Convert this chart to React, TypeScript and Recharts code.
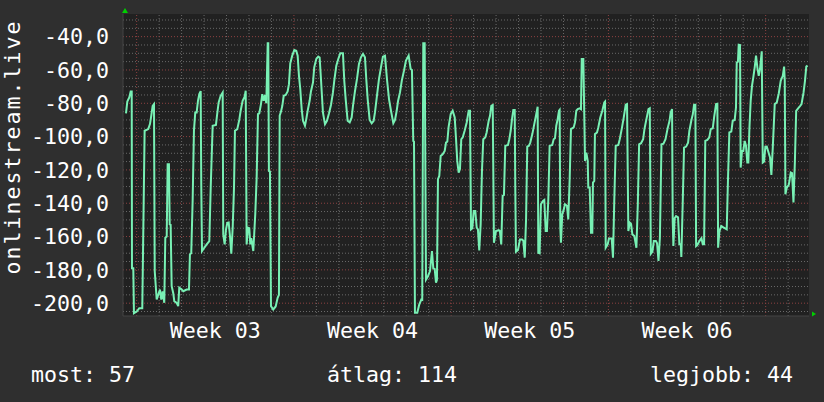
import React from 'react';
import { LineChart, Line, XAxis, YAxis, CartesianGrid, ReferenceLine, ReferenceDot } from 'recharts';

// samples: [hours since start of Week 03, value]
const week02Tail: [number, number][] = [
  [-11.4, -86], [-10.0, -79], [-7.9, -76.5], [-6.4, -73], [-5.3, -73], [-5.0, -179], [-3.6, -179], [-2.9, -206],
];

const week03: [number, number][] = [
  [0, -205], [2.8, -203], [6.0, -203], [8.5, -96.5], [12.4, -95.5], [14.2, -92.5], [15.6, -87.5], [17.1, -81.5],
  [18.5, -80.5], [19.3, -180.7], [21.4, -197.8], [23.5, -194.3], [24.9, -191.8], [26.3, -197.8], [27.8, -193],
  [29.5, -199.8], [30.6, -160.7], [32.1, -160], [33.1, -116.6], [34.5, -116.6], [35.3, -152.7], [36.3, -153],
  [37.4, -189.8], [39.1, -194], [40.2, -198.8], [42.7, -199.8], [44.4, -201.8], [45.5, -190.7], [48.1, -191.8],
  [49.8, -192.8], [53.4, -191.8], [55.9, -191.8], [56.9, -170.7], [58.3, -170], [59.8, -138.6], [61.2, -96.5],
  [62.6, -85.5], [64.1, -85.5], [65.5, -78.5], [66.9, -74.5], [68.4, -72.7], [69.0, -128.6], [69.8, -168.7],
  [71.9, -167], [74.8, -164.7], [77.6, -162.7], [79.1, -130.6], [81.2, -93.5], [84.7, -93], [86.1, -86],
  [87.6, -79.5], [89.7, -75.5], [91.9, -73.5], [92.5, -158.7], [94.0, -164.7], [95.4, -156], [96.8, -151.7],
  [98.3, -151.5], [99.7, -159.7], [101.1, -170.3], [102.6, -154.5], [104.0, -130.6], [105.0, -96.5],
  [107.5, -95.5], [109.6, -90], [111.1, -84.5], [113.2, -78.5], [115.4, -76], [116.5, -72.5], [117.5, -164.7],
  [118.9, -154.7], [120.3, -155], [121.4, -164.7], [122.4, -161], [124.6, -168.7], [126.7, -146.6],
  [128.2, -124.6], [129.6, -86.5], [131.0, -86], [132.8, -80.5], [134.2, -74.5], [135.7, -78.5], [137.1, -75],
  [138.5, -80], [140.0, -44], [140.6, -44], [141.3, -120.6], [142.4, -121], [143.5, -201.8], [145.9, -203.8],
  [148.5, -202], [150.6, -196.8], [152.0, -195], [152.8, -87.5], [154.2, -85], [155.6, -81.5], [157.1, -75.5],
  [159.2, -75], [161.3, -72.9], [162.7, -68.5], [164.1, -56], [166.2, -51.4],
];

const week04: [number, number][] = [
  [168.4, -48], [170.5, -48.5], [172.0, -51.4], [173.4, -63.5], [174.8, -71.5], [176.3, -83.5], [177.7, -90.5],
  [179.8, -93.5], [181.2, -89.5], [182.7, -84.5], [184.8, -78.5], [186.2, -72.9], [188.4, -67.5], [189.7, -58.4],
  [191.9, -53.4], [194.0, -52], [195.5, -52.5], [196.9, -65.4], [199.0, -85.5], [201.2, -92.5], [203.3, -90.5],
  [205.5, -86], [207.6, -81], [209.7, -73.5], [211.1, -66.5], [213.3, -57.4], [215.4, -53.4], [217.5, -50],
  [220.4, -50], [221.8, -66.5], [223.3, -77.5], [225.4, -90.5], [227.6, -91.5], [229.7, -88.5], [231.1, -81.5],
  [233.2, -72.9], [235.4, -65.4], [237.5, -56.4], [239.6, -52.4], [241.8, -50.4], [243.9, -52.4], [245.3, -65.4],
  [246.8, -77.5], [248.9, -90], [251.1, -92], [253.2, -90.5], [254.6, -85.5], [256.7, -75.5], [258.9, -65.4],
  [261.0, -58.4], [263.1, -52], [265.3, -51.5], [267.4, -65.4], [269.6, -77.5], [271.7, -84.5], [274.2, -92],
  [276.0, -90], [277.8, -84.5], [279.2, -78.8], [281.3, -73.5], [283.4, -66], [285.6, -60.4], [287.7, -54.4],
  [290.6, -51.4], [292.7, -59.4], [294.1, -60], [295.5, -102.6], [296.3, -103], [297.3, -205.8], [299.8, -205.8],
  [301.9, -200.8], [304.1, -197.8], [305.1, -198], [306.2, -44], [307.7, -44], [309.1, -185.8], [311.2, -183.8],
  [313.4, -180.7], [315.5, -168.7], [316.9, -179.1], [318.4, -179.5], [319.8, -187.7], [320.8, -186],
  [321.9, -125.6], [323.3, -123.6], [324.8, -111.6], [326.9, -110.6], [329.1, -108.6], [330.5, -103.6],
  [331.9, -103], [333.3, -94.1], [335.5, -86.5],
];

const week05: [number, number][] = [
  [337.6, -84.5], [339.8, -88.5], [341.1, -100.5], [342.5, -114.6], [344.0, -121.6], [345.4, -119.5],
  [346.8, -101.6], [348.3, -100.5], [350.4, -96.5], [352.6, -91.5], [354.7, -84.5], [356.1, -84.5],
  [357.2, -155.7], [358.6, -155], [360.1, -144.7], [361.8, -144.7], [363.3, -154.7], [364.6, -155.7],
  [366.0, -168.3], [367.5, -152.7], [368.9, -120.6], [370.3, -101.6], [372.4, -100.5], [373.9, -97.5],
  [376.1, -90.5], [377.5, -87.5], [378.9, -81.5], [380.4, -81], [381.7, -163.7], [383.9, -156.7],
  [386.8, -156.2], [388.1, -156.7], [389.5, -164.7], [391.0, -135.6], [392.4, -135], [393.8, -105.6],
  [396.7, -105], [398.1, -101.6], [399.6, -96.5], [401.0, -89.5], [402.4, -84.1], [403.9, -84.1],
  [404.5, -130.6], [405.2, -169.1], [407.4, -168], [409.5, -161.7], [411.7, -161.7], [413.1, -162.5],
  [414.6, -172.7], [416.0, -150], [417.3, -106], [419.1, -105.5], [420.5, -103.6], [422.7, -98.5],
  [424.8, -92.5], [426.9, -86.5], [428.4, -82.1], [429.1, -169.7], [430.5, -170], [431.9, -140.6],
  [434.1, -138.6], [435.5, -138], [437.0, -156.7], [438.3, -156.7], [439.8, -137.6], [441.2, -105.6],
  [444.0, -105], [445.5, -101.6], [446.9, -101], [448.3, -93.5], [449.8, -89.5], [451.2, -84.5], [451.9, -84],
  [452.6, -154.7], [453.3, -163.7], [454.7, -146.6], [456.2, -144], [457.6, -140.6], [459.7, -141.5],
  [461.1, -149.7], [462.6, -125.6], [464.0, -95.5], [466.9, -94.5], [468.3, -91.5], [469.7, -84.5],
  [471.2, -83.5], [473.3, -83], [474.7, -83.5], [475.5, -53.4], [477.2, -53.4], [478.2, -86.5], [479.0, -114.6],
  [480.4, -109.6], [481.9, -114.6], [482.5, -130.6], [484.0, -130.6], [485.4, -157.7], [486.8, -157.7],
  [487.5, -127.6], [488.9, -126.6], [489.6, -98.5], [491.8, -97.5], [493.2, -94.5], [495.3, -88.5],
  [497.5, -84.5], [499.6, -79.5], [500.4, -79], [501.1, -166.7], [503.2, -164.7],
];

const week06: [number, number][] = [
  [504.6, -161.1], [507.5, -161.1], [508.9, -172.7], [510.3, -137.6], [511.8, -105.6], [514.6, -105],
  [516.1, -101.6], [518.2, -95.5], [520.4, -88.5], [522.5, -80.9], [523.9, -80.5], [525.3, -156.7],
  [526.8, -151.7], [528.2, -152.5], [529.6, -158.7], [531.7, -159.7], [533.9, -166.7], [535.4, -140.6],
  [536.8, -104.6], [538.9, -104], [541.1, -101.6], [542.5, -95.5], [544.6, -89.5], [546.8, -83.5], [548.2, -83],
  [549.3, -170.3], [551.0, -169], [552.5, -162.7], [554.7, -162.7], [556.0, -164], [557.5, -174.7],
  [559.0, -160.7], [560.7, -104.6], [562.8, -104.3], [565.0, -101.6], [567.1, -95.5], [569.3, -90.5],
  [570.5, -85.5], [572.0, -83.5], [572.7, -150.7], [573.4, -165.7], [574.8, -149], [576.2, -147.7],
  [578.4, -148.5], [579.8, -164.7], [581.3, -164.7], [581.9, -172.3], [583.4, -139.6], [584.8, -106.6],
  [587.0, -106], [589.1, -103.6], [590.5, -96.5], [592.7, -90], [594.2, -86.5], [595.5, -80.9], [596.9, -80.9],
  [597.7, -165.7], [599.1, -165], [601.2, -162.7], [603.4, -161], [604.8, -164.7], [606.2, -164.7],
  [607.5, -102.6], [609.7, -102], [611.8, -100.5], [613.3, -95.5], [615.5, -95], [616.9, -88.5], [619.0, -80.5],
  [620.4, -80.3], [621.2, -166.7], [622.6, -156.7], [624.6, -153.7], [626.8, -154.5], [630.4, -155.7],
  [631.8, -124.6], [633.2, -97.5], [635.3, -97], [636.8, -90.5], [638.9, -90], [640.3, -82.5], [641.1, -55.4],
  [642.4, -55], [643.2, -44.8], [644.6, -45], [645.3, -118.6], [646.7, -108.6], [648.1, -108.6],
  [649.6, -102.6], [651.0, -105.5], [652.4, -115.6], [653.5, -115.6], [654.6, -95.5], [656.0, -78.5],
  [657.4, -69.5], [658.8, -64.4], [660.3, -58.4], [661.7, -51.4], [663.1, -58.4], [664.6, -63.5],
  [666.0, -59.4], [667.8, -48.8], [668.9, -115.6], [670.3, -115], [671.7, -106.1],
];

const week07Head: [number, number][] = [
  [673.2, -106], [674.6, -108.6], [676.7, -112.6], [678.1, -123], [679.6, -106.6], [681.7, -80.5],
  [683.9, -79.5], [686.0, -74.1], [688.1, -66.5], [690.3, -63.5], [691.7, -58], [692.4, -66.5],
  [693.1, -134.6], [694.6, -130.6], [696.7, -129], [698.8, -121.6], [700.2, -122], [701.7, -139.6],
  [703.2, -115.6], [704.6, -84.5], [706.7, -83], [708.9, -81.5], [710.3, -80.5], [712.5, -73.5],
  [714.0, -66.5], [715.4, -58], [716.8, -57.4],
];

const weekLabels = ['Week 03', 'Week 04', 'Week 05', 'Week 06'];
const weekMidHours = [84, 252, 420, 588];
const weekStartHours = [0, 168, 336, 504, 672];
const yTicks = [-200, -180, -160, -140, -120, -100, -80, -60, -40];

const yLabel = 'onlinestream.live';
const most = 57;
const atlag = 114;
const legjobb = 44;

const W = 824;
const H = 402;
const X_DOMAIN: [number, number] = [-14.6, 718.3];
const Y_DOMAIN: [number, number] = [-207.7, -26.4];

const BG = '#2f2f2f';
const PLOT_BG = '#212121';
const LINE = '#78f0b4';
const GRID = '#6a6a6a';
const MGRID = '#8e4242';
const AXIS = '#454545';
const FONT = '"DejaVu Sans Mono", monospace';
const FS = 21.6;

const data = [...week02Tail, ...week03, ...week04, ...week05, ...week06, ...week07Head].map(([h, v]) => ({ h, v }));

// grid positions (one line per day, one per 5 units)
const dayHours = Array.from({ length: 30 }, (_, i) => i * 24).filter(h => h % 168 !== 0);
const minorY = Array.from({ length: 36 }, (_, i) => -205 + i * 5).filter(v => v % 20 !== 0);

const UpArrow = (props: any) => {
  const { cx, cy } = props;
  return <polygon points={`${cx - 1},${cy - 1} ${cx + 5},${cy - 1} ${cx + 2},${cy - 6}`} fill="#00d000" />;
};

const RightArrow = (props: any) => {
  const { cx, cy } = props;
  return <polygon points={`${cx + 3},${cy - 4.5} ${cx + 3},${cy + 0.5} ${cx + 7},${cy - 2}`} fill="#00d000" />;
};

const tickStyle = { fill: '#ffffff', fontSize: FS, fontFamily: FONT };

export default function App() {
  return (
    <div style={{ position: 'absolute', left: 0, top: 0, width: W, height: H, background: BG }}>
      <LineChart width={W} height={H} data={data} margin={{ top: 14, right: 15, bottom: 0, left: 0 }}>
        <CartesianGrid fill={PLOT_BG} horizontal={false} vertical={false} />
        <XAxis
          dataKey="h"
          type="number"
          domain={X_DOMAIN}
          allowDataOverflow
          ticks={weekMidHours}
          interval={0}
          tickFormatter={(h: number) => weekLabels[weekMidHours.indexOf(h)]}
          tick={tickStyle}
          tickLine={false}
          tickSize={0}
          tickMargin={7}
          axisLine={{ stroke: AXIS }}
          height={86}
        />
        <YAxis
          type="number"
          domain={Y_DOMAIN}
          allowDataOverflow
          ticks={yTicks}
          interval={0}
          tickFormatter={(v: number) => v.toFixed(1).replace('.', ',')}
          tick={tickStyle}
          tickLine={false}
          tickSize={0}
          tickMargin={14}
          axisLine={{ stroke: AXIS }}
          width={123}
        />
        {minorY.map(v => (
          <ReferenceLine key={`my${v}`} y={v} stroke={GRID} strokeDasharray="1 2" />
        ))}
        {dayHours.map(h => (
          <ReferenceLine key={`mx${h}`} x={h} stroke={GRID} strokeDasharray="1 2" />
        ))}
        {yTicks.map(v => (
          <ReferenceLine key={`My${v}`} y={v} stroke={MGRID} strokeDasharray="1 2" />
        ))}
        {weekStartHours.map(h => (
          <ReferenceLine key={`Mx${h}`} x={h} stroke={MGRID} strokeDasharray="1 2" />
        ))}
        <Line
          type="linear"
          dataKey="v"
          stroke={LINE}
          strokeWidth={2}
          dot={false}
          activeDot={false}
          isAnimationActive={false}
        />
        <ReferenceDot x={X_DOMAIN[0]} y={Y_DOMAIN[1]} r={0} ifOverflow="visible" shape={UpArrow} />
        <ReferenceDot x={X_DOMAIN[1]} y={Y_DOMAIN[0]} r={0} ifOverflow="visible" shape={RightArrow} />
      </LineChart>
      <svg width={W} height={H} style={{ position: 'absolute', left: 0, top: 0, pointerEvents: 'none' }}>
        <g fill="#ffffff" fontFamily={FONT} fontSize={FS}>
          <text transform="translate(20,147) rotate(-90)" textAnchor="middle" letterSpacing={2}>
            {yLabel}
          </text>
          <text x={31} y={382}>most: {most}</text>
          <text x={327} y={382}>átlag: {atlag}</text>
          <text x={793} y={382} textAnchor="end">legjobb: {legjobb}</text>
        </g>
      </svg>
    </div>
  );
}
